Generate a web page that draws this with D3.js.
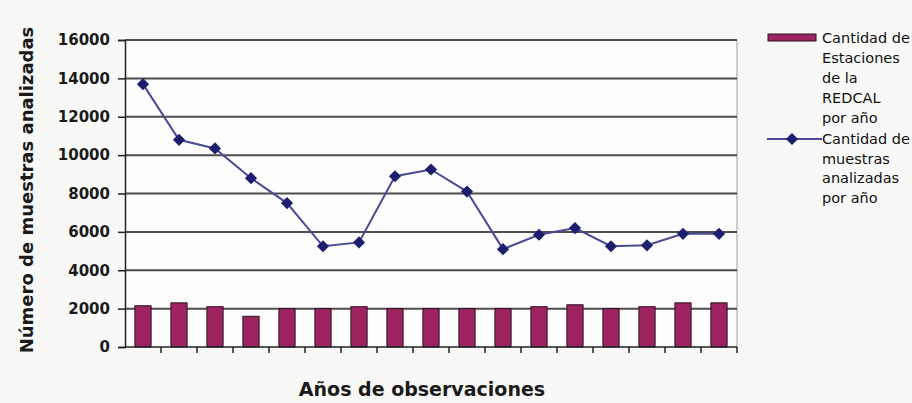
<!DOCTYPE html>
<html>
<head>
<meta charset="utf-8">
<script src="https://cdn.jsdelivr.net/npm/d3@7/dist/d3.min.js"></script>
<style>
  html, body { margin: 0; padding: 0; background: #f8f8f7; }
  svg { display: block; }
  text { font-family: "DejaVu Sans", Verdana, sans-serif; fill: #1a1a1a; }
</style>
</head>
<body>
<svg id="chart" width="912" height="403"></svg>
<script>
// Observation years (unlabelled on the axis)
const categories = ["1", "2", "3", "4", "5", "6", "7", "8", "9", "10", "11", "12", "13", "14", "15", "16", "17"];
// REDCAL stations per year (bars)
const stations = [2150, 2300, 2100, 1600, 2000, 2000, 2100, 2000, 2000, 2000, 2000, 2100, 2200, 2000, 2100, 2300, 2300];
// Samples analysed per year (line)
const samples = [13700, 10800, 10350, 8800, 7500, 5250, 5450, 8900, 9250, 8100, 5100, 5850, 6200, 5250, 5300, 5900, 5900];
const yTicks = [0, 2000, 4000, 6000, 8000, 10000, 12000, 14000, 16000];
const legendBars = ["Cantidad de", "Estaciones", "de la", "REDCAL", "por año"];
const legendLine = ["Cantidad de", "muestras", "analizadas", "por año"];

const svg = d3.select("#chart");
const plot = { left: 125, right: 737, top: 40, bottom: 347 };

const x = d3.scaleBand().domain(categories).range([plot.left, plot.right]).padding(0);
const y = d3.scaleLinear().domain([0, 16000]).range([plot.bottom, plot.top]);

// plot background and right border
svg.append("rect")
  .attr("x", plot.left).attr("y", plot.top)
  .attr("width", plot.right - plot.left).attr("height", plot.bottom - plot.top)
  .attr("fill", "#fdfdfd");
svg.append("line")
  .attr("x1", plot.right).attr("x2", plot.right)
  .attr("y1", plot.top).attr("y2", plot.bottom)
  .attr("stroke", "#bdbdbd").attr("stroke-width", 1.5);

// horizontal gridlines
svg.append("g").selectAll("line")
  .data(yTicks.filter(d => d > 0))
  .join("line")
  .attr("x1", plot.left).attr("x2", plot.right)
  .attr("y1", d => y(d)).attr("y2", d => y(d))
  .attr("stroke", "#4d4d4d").attr("stroke-width", 2);

// bars
const barW = x.bandwidth() * 0.45;
svg.append("g").selectAll("rect")
  .data(stations)
  .join("rect")
  .attr("x", (d, i) => x(categories[i]) + (x.bandwidth() - barW) / 2)
  .attr("y", d => y(d))
  .attr("width", barW)
  .attr("height", d => y(0) - y(d))
  .attr("fill", "#9e2461")
  .attr("stroke", "#2a1020").attr("stroke-width", 1);

// y axis
const yAxis = svg.append("g")
  .attr("transform", `translate(${plot.left},0)`)
  .call(d3.axisLeft(y).tickValues(yTicks).tickSize(7).tickPadding(8).tickFormat(d3.format("d")));
yAxis.select(".domain").attr("stroke", "#222").attr("stroke-width", 1.5);
yAxis.selectAll(".tick line").attr("stroke", "#222").attr("stroke-width", 1.5);
yAxis.selectAll(".tick text")
  .attr("font-family", "'DejaVu Sans', Verdana, sans-serif")
  .attr("font-size", 15).attr("font-weight", "bold").attr("fill", "#1a1a1a");

// x axis: baseline with ticks at category boundaries
const xg = svg.append("g");
xg.append("line")
  .attr("x1", plot.left).attr("x2", plot.right)
  .attr("y1", y(0)).attr("y2", y(0))
  .attr("stroke", "#222").attr("stroke-width", 1.5);
xg.selectAll("line.tick")
  .data(categories.slice(1).concat(["end"]))
  .join("line").attr("class", "tick")
  .attr("x1", d => d === "end" ? plot.right : x(d))
  .attr("x2", d => d === "end" ? plot.right : x(d))
  .attr("y1", y(0)).attr("y2", y(0) + 6)
  .attr("stroke", "#222").attr("stroke-width", 1.5);

// samples line with diamond markers
const cx = i => x(categories[i]) + x.bandwidth() / 2;
svg.append("path")
  .datum(samples)
  .attr("d", d3.line().x((d, i) => cx(i)).y(d => y(d)))
  .attr("fill", "none").attr("stroke", "#4a4a96").attr("stroke-width", 2);
const diamond = d3.symbol().type(d3.symbolDiamond2).size(95);
svg.append("g").selectAll("path")
  .data(samples)
  .join("path")
  .attr("d", diamond)
  .attr("transform", (d, i) => `translate(${cx(i)},${y(d)})`)
  .attr("fill", "#1e1e6e");

// axis titles
svg.append("text")
  .attr("x", 422).attr("y", 396)
  .attr("text-anchor", "middle")
  .attr("font-size", 19).attr("font-weight", "bold")
  .text("Años de observaciones");
svg.append("text")
  .attr("transform", "translate(33,190) rotate(-90)")
  .attr("text-anchor", "middle")
  .attr("font-size", 18).attr("font-weight", "bold")
  .text("Número de muestras analizadas");

// legend
const lg = svg.append("g");
lg.append("rect")
  .attr("x", 768).attr("y", 34).attr("width", 48).attr("height", 7)
  .attr("fill", "#9e2461").attr("stroke", "#2a1020").attr("stroke-width", 1);
lg.append("text")
  .attr("x", 822).attr("y", 43).attr("font-size", 14.5).style("fill", "#111")
  .selectAll("tspan").data(legendBars).join("tspan")
  .attr("x", 822).attr("dy", (d, i) => i === 0 ? 0 : 20.1)
  .text(d => d);
lg.append("line")
  .attr("x1", 767).attr("x2", 822).attr("y1", 139).attr("y2", 139)
  .attr("stroke", "#4a4a96").attr("stroke-width", 2);
lg.append("path")
  .attr("d", diamond)
  .attr("transform", "translate(792,139)")
  .attr("fill", "#1e1e6e");
lg.append("text")
  .attr("x", 822).attr("y", 144).attr("font-size", 14.5).style("fill", "#111")
  .selectAll("tspan").data(legendLine).join("tspan")
  .attr("x", 822).attr("dy", (d, i) => i === 0 ? 0 : 19.5)
  .text(d => d);
</script>
</body>
</html>
